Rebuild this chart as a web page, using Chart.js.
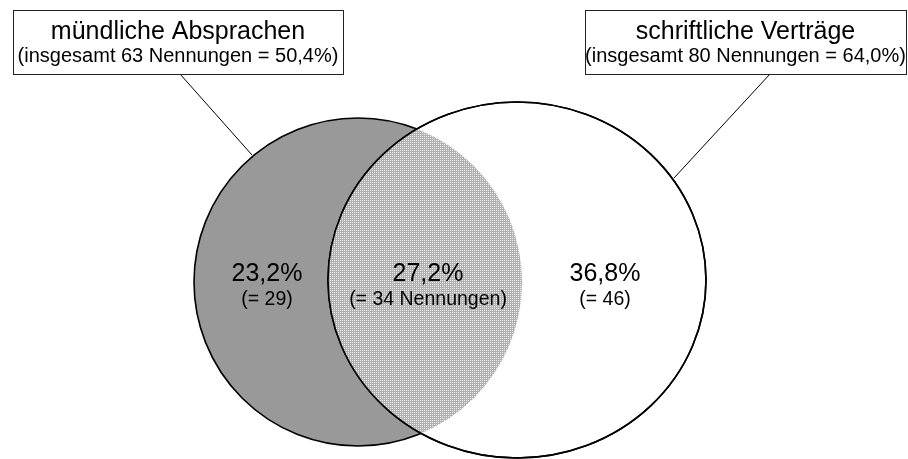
<!DOCTYPE html>
<html>
<head>
<meta charset="utf-8">
<script src="https://cdn.jsdelivr.net/npm/chart.js@4.4.0/dist/chart.umd.min.js"></script>
<style>
    html, body { margin: 0; padding: 0; background: #ffffff; }
    canvas { display: block; }
</style>
</head>
<body>
<canvas id="venn" width="908" height="459"></canvas>
<script>
// Data
const setNames = ['mündliche Absprachen', 'schriftliche Verträge'];
const setTotals = [63, 80];
const setPercents = [50.4, 64.0];
const regionPercents = [23.2, 27.2, 36.8];
const regionCounts = [29, 34, 46];

// Layout (axis units, the axes span the canvas)
const circles = [
    { cx: 358, cy: 282, rx: 164, ry: 164 },
    { cx: 517, cy: 280, rx: 189, ry: 178 }
];
const boxes = [
    { x1: 13, y1: 10, x2: 343, y2: 74, anchor: [180, 74], tip: [252, 155] },
    { x1: 585, y1: 10, x2: 906, y2: 74, anchor: [770, 74], tip: [674, 178] }
];
const regionPos = [[267, 281], [428, 281], [605, 281]];

const FONT = '"Liberation Sans", Arial, sans-serif';

function fmt(v) {
    return v.toFixed(1).replace('.', ',');
}

function makePattern(ctx) {
    const c = document.createElement('canvas');
    c.width = 2;
    c.height = 2;
    const p = c.getContext('2d');
    p.fillStyle = '#b0b0b0';
    p.fillRect(0, 0, 2, 2);
    p.fillStyle = '#eeeeee';
    p.fillRect(0, 0, 1, 1);
    return ctx.createPattern(c, 'repeat');
}

function drawText(ctx, str, px, py, size) {
    ctx.font = size + 'px ' + FONT;
    ctx.fillStyle = '#000000';
    ctx.textAlign = 'center';
    ctx.textBaseline = 'alphabetic';
    ctx.fillText(str, px, py);
}

const vennPlugin = {
    id: 'venn',
    beforeDatasetsDraw(chart) {
        const ctx = chart.ctx;
        const xs = chart.scales.x;
        const ys = chart.scales.y;

        function ellipse(c) {
            const px = xs.getPixelForValue(c.cx);
            const py = ys.getPixelForValue(c.cy);
            const rx = Math.abs(xs.getPixelForValue(c.cx + c.rx) - px);
            const ry = Math.abs(ys.getPixelForValue(c.cy + c.ry) - py);
            ctx.beginPath();
            ctx.ellipse(px, py, rx, ry, 0, 0, Math.PI * 2);
        }

        ctx.save();
        ctx.lineWidth = 1.6;
        ctx.strokeStyle = '#000000';

        // left set
        ellipse(circles[0]);
        ctx.fillStyle = '#999999';
        ctx.fill();
        ctx.stroke();

        // right set
        ellipse(circles[1]);
        ctx.fillStyle = '#ffffff';
        ctx.fill();
        ctx.stroke();

        // overlap
        ctx.save();
        ellipse(circles[0]);
        ctx.clip();
        ellipse(circles[1]);
        ctx.fillStyle = makePattern(ctx);
        ctx.fill();
        ctx.restore();

        ellipse(circles[1]);
        ctx.stroke();
        ctx.restore();
    },
    afterDraw(chart) {
        const ctx = chart.ctx;
        const xs = chart.scales.x;
        const ys = chart.scales.y;
        const X = v => xs.getPixelForValue(v);
        const Y = v => ys.getPixelForValue(v);

        // callout boxes
        ctx.save();
        boxes.forEach((b, i) => {
            ctx.strokeStyle = '#000000';
            ctx.lineWidth = 1;
            ctx.beginPath();
            ctx.moveTo(X(b.anchor[0]), Y(b.anchor[1]));
            ctx.lineTo(X(b.tip[0]), Y(b.tip[1]));
            ctx.stroke();

            ctx.fillStyle = '#ffffff';
            ctx.fillRect(X(b.x1), Y(b.y1), X(b.x2) - X(b.x1), Y(b.y2) - Y(b.y1));
            ctx.strokeStyle = '#222222';
            ctx.strokeRect(X(b.x1) + 0.5, Y(b.y1) + 0.5, X(b.x2) - X(b.x1), Y(b.y2) - Y(b.y1));

            const mid = (X(b.x1) + X(b.x2)) / 2;
            drawText(ctx, setNames[i], mid, Y(b.y1) + 29, 25);
            drawText(ctx, '(insgesamt ' + setTotals[i] + ' Nennungen = ' + fmt(setPercents[i]) + '%)',
                mid, Y(b.y1) + 52, 20);
        });

        // region labels
        regionPos.forEach((p, i) => {
            drawText(ctx, fmt(regionPercents[i]) + '%', X(p[0]), Y(p[1]), 25);
            const sub = i === 1 ? '(= ' + regionCounts[i] + ' Nennungen)' : '(= ' + regionCounts[i] + ')';
            drawText(ctx, sub, X(p[0]), Y(p[1]) + 24, 19.5);
        });
        ctx.restore();
    }
};

new Chart(document.getElementById('venn'), {
    type: 'scatter',
    data: {
        datasets: setNames.map((name, i) => ({
            label: name,
            data: [{ x: circles[i].cx, y: circles[i].cy }],
            pointRadius: 0,
            pointHoverRadius: 0
        }))
    },
    options: {
        responsive: false,
        animation: false,
        devicePixelRatio: 1,
        layout: { padding: 0 },
        plugins: {
            legend: { display: false },
            tooltip: { enabled: false }
        },
        scales: {
            x: { type: 'linear', min: 0, max: 908, display: false },
            y: { type: 'linear', min: 0, max: 459, reverse: true, display: false }
        }
    },
    plugins: [vennPlugin]
});
</script>
</body>
</html>
